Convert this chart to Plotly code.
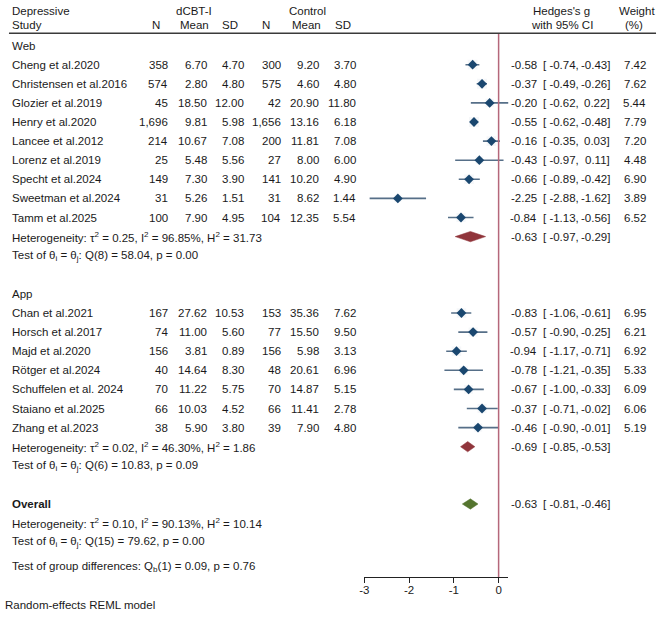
import plotly.graph_objects as go

# ---------------- data ----------------
web_studies = ["Cheng et al.2020", "Christensen et al.2016", "Glozier et al.2019", "Henry et al.2020",
               "Lancee et al.2012", "Lorenz et al.2019", "Specht et al.2024", "Sweetman et al.2024",
               "Tamm et al.2025"]
web_n1 = [358, 574, 45, 1696, 214, 25, 149, 31, 100]
web_m1 = [6.70, 2.80, 18.50, 9.81, 10.67, 5.48, 7.30, 5.26, 7.90]
web_sd1 = [4.70, 4.80, 12.00, 5.98, 7.08, 5.56, 3.90, 1.51, 4.95]
web_n2 = [300, 575, 42, 1656, 200, 27, 141, 31, 104]
web_m2 = [9.20, 4.60, 20.90, 13.16, 11.81, 8.00, 10.20, 8.62, 12.35]
web_sd2 = [3.70, 4.80, 11.80, 6.18, 7.08, 6.00, 4.90, 1.44, 5.54]
web_g = [-0.58, -0.37, -0.20, -0.55, -0.16, -0.43, -0.66, -2.25, -0.84]
web_lo = [-0.74, -0.49, -0.62, -0.62, -0.35, -0.97, -0.89, -2.88, -1.13]
web_hi = [-0.43, -0.26, 0.22, -0.48, 0.03, 0.11, -0.42, -1.62, -0.56]
web_w = [7.42, 7.62, 5.44, 7.79, 7.20, 4.48, 6.90, 3.89, 6.52]

app_studies = ["Chan et al.2021", "Horsch et al.2017", "Majd et al.2020", "Rötger et al.2024",
               "Schuffelen et al. 2024", "Staiano et al.2025", "Zhang et al.2023"]
app_n1 = [167, 74, 156, 40, 70, 66, 38]
app_m1 = [27.62, 11.00, 3.81, 14.64, 11.22, 10.03, 5.90]
app_sd1 = [10.53, 5.60, 0.89, 8.30, 5.75, 4.52, 3.80]
app_n2 = [153, 77, 156, 48, 70, 66, 39]
app_m2 = [35.36, 15.50, 5.98, 20.61, 14.87, 11.41, 7.90]
app_sd2 = [7.62, 9.50, 3.13, 6.96, 5.15, 2.78, 4.80]
app_g = [-0.83, -0.57, -0.94, -0.78, -0.67, -0.37, -0.46]
app_lo = [-1.06, -0.90, -1.17, -1.21, -1.00, -0.71, -0.90]
app_hi = [-0.61, -0.25, -0.71, -0.35, -0.33, -0.02, -0.01]
app_w = [6.95, 6.21, 6.92, 5.33, 6.09, 6.06, 5.19]

pooled_labels = ["Web", "App", "Overall"]
pooled_g = [-0.63, -0.69, -0.63]
pooled_lo = [-0.97, -0.85, -0.81]
pooled_hi = [-0.29, -0.53, -0.46]

web_het = "Heterogeneity: τ<sup>2</sup> = 0.25, I<sup>2</sup> = 96.85%, H<sup>2</sup> = 31.73"
web_test = "Test of θ<sub>i</sub> = θ<sub>j</sub>: Q(8) = 58.04, p = 0.00"
app_het = "Heterogeneity: τ<sup>2</sup> = 0.02, I<sup>2</sup> = 46.30%, H<sup>2</sup> = 1.86"
app_test = "Test of θ<sub>i</sub> = θ<sub>j</sub>: Q(6) = 10.83, p = 0.09"
all_het = "Heterogeneity: τ<sup>2</sup> = 0.10, I<sup>2</sup> = 90.13%, H<sup>2</sup> = 10.14"
all_test = "Test of θ<sub>i</sub> = θ<sub>j</sub>: Q(15) = 79.62, p = 0.00"
grp_test = "Test of group differences: Q<sub>b</sub>(1) = 0.09, p = 0.76"
footnote = "Random-effects REML model"

x_ticks = [-3, -2, -1, 0]

# ---------------- layout helpers ----------------
W, H = 661, 618
FONT = "Liberation Sans, Arial, sans-serif"
TXT = "#1a1a1a"
NAVY = "#1a476f"
CI_COL = "#566f88"
MAROON = "#90353b"
GREEN = "#55752f"
REF = "#b5677a"
FS = 11.5
LSHIFT = 5  # compensation for annotation left padding

row_px0, row_step = 45.6, 19.1  # pixel y of row 0, pixel per row
ktop = -row_px0 / row_step
kbot = ktop + H / row_step


def kpx(ypx):
    return (ypx - row_px0) / row_step


def px(x):
    return x / W


annotations = []


def txt(x, k, s, anchor="left", bold=False, size=FS):
    if anchor == "left":
        x = x - LSHIFT
    annotations.append(dict(
        x=px(x), y=k, xref="paper", yref="y", text=("<b>%s</b>" % s) if bold else s,
        showarrow=False, xanchor=anchor, yanchor="middle",
        font=dict(family=FONT, size=size, color=TXT), borderpad=0))


fig = go.Figure()

# column right edges
C_N1, C_M1, C_SD1, C_N2, C_M2, C_SD2 = 165.7, 204.2, 241.7, 279.3, 317.3, 355.0
C_ES, C_LO, C_HI, C_W = 537.5, 541.0, 610.5, 646.5

# headers
txt(11, kpx(10.5), "Depressive")
txt(11, kpx(25), "Study")
txt(190.8, kpx(10.5), "dCBT-I", "center")
txt(305, kpx(10.5), "Control", "center")
for cx, s in [(152.5, "N"), (190.5, "Mean"), (226.5, "SD"), (262.5, "N"), (304.3, "Mean"), (340.5, "SD")]:
    txt(cx, kpx(25), s, "center")
txt(561, kpx(10.5), "Hedges's g", "center")
txt(561, kpx(25), "with 95% CI", "center")
txt(636.5, kpx(10.5), "Weight", "center")
txt(633.5, kpx(25), "(%)", "center")

fig.add_shape(type="line", xref="paper", yref="y", x0=px(4), x1=px(656),
              y0=kpx(33.3), y1=kpx(33.3), line=dict(color="#3a3a3a", width=1.5))


def es_text(k, g, lo, hi):
    txt(C_ES, k, "%.2f" % g, "right")
    txt(C_LO + LSHIFT, k, "[ %.2f," % lo, "left")
    txt(C_HI, k, "%.2f]" % hi, "right")


def add_group(studies, n1, m1, sd1, n2, m2, sd2, g, lo, hi, w, k0):
    ks = [k0 + i for i in range(len(studies))]
    for i, k in enumerate(ks):
        txt(11, k, studies[i])
        txt(C_N1, k, "{:,}".format(n1[i]), "right")
        txt(C_M1, k, "%.2f" % m1[i], "right")
        txt(C_SD1, k, "%.2f" % sd1[i], "right")
        txt(C_N2, k, "{:,}".format(n2[i]), "right")
        txt(C_M2, k, "%.2f" % m2[i], "right")
        txt(C_SD2, k, "%.2f" % sd2[i], "right")
        es_text(k, g[i], lo[i], hi[i])
        txt(C_W, k, "%.2f" % w[i], "right")
        fig.add_trace(go.Scatter(x=[lo[i], hi[i]], y=[k, k], mode="lines", xaxis="x2", yaxis="y",
                                 line=dict(color=CI_COL, width=1.6), showlegend=False, hoverinfo="skip"))
    # faint weight boxes
    fig.add_trace(go.Scatter(x=g, y=ks, mode="markers", xaxis="x2", yaxis="y",
                             marker=dict(symbol="square", size=[3.6 * wi ** 0.5 for wi in w],
                                         color="rgba(120,140,165,0.10)", line=dict(width=0)),
                             showlegend=False, hoverinfo="skip"))
    fig.add_trace(go.Scatter(x=g, y=ks, mode="markers", xaxis="x2", yaxis="y",
                             marker=dict(symbol="diamond", size=7.5, color=NAVY, line=dict(width=0)),
                             showlegend=False, hoverinfo="skip"))


def add_diamond(i, k, color):
    h = 0.27
    fig.add_trace(go.Scatter(x=[pooled_lo[i], pooled_g[i], pooled_hi[i], pooled_g[i], pooled_lo[i]],
                             y=[k, k - h, k, k + h, k], mode="lines", fill="toself",
                             fillcolor=color, line=dict(color=color, width=0.5),
                             xaxis="x2", yaxis="y", showlegend=False, hoverinfo="skip"))
    es_text(k, pooled_g[i], pooled_lo[i], pooled_hi[i])


# Web group
txt(11, 0, pooled_labels[0])
add_group(web_studies, web_n1, web_m1, web_sd1, web_n2, web_m2, web_sd2,
          web_g, web_lo, web_hi, web_w, 1)
add_diamond(0, 10, MAROON)
txt(11, 10, web_het)
txt(11, 11, web_test)

# App group
txt(11, 13, pooled_labels[1])
add_group(app_studies, app_n1, app_m1, app_sd1, app_n2, app_m2, app_sd2,
          app_g, app_lo, app_hi, app_w, 14)
add_diamond(1, 21, MAROON)
txt(11, 21, app_het)
txt(11, 22, app_test)

# Overall
txt(11, 24, pooled_labels[2], bold=True)
add_diamond(2, 24, GREEN)
txt(11, 25, all_het)
txt(11, 26, all_test)
txt(11, kpx(566.7), grp_test)
txt(4, kpx(605.3), footnote)

# reference line at 0
fig.add_trace(go.Scatter(x=[0, 0], y=[kpx(33.3), kpx(577.3)], mode="lines", xaxis="x2", yaxis="y",
                         line=dict(color=REF, width=1.5), showlegend=False, hoverinfo="skip"))

fig.update_layout(
    width=W, height=H, margin=dict(l=0, r=0, t=0, b=0),
    paper_bgcolor="white", plot_bgcolor="rgba(0,0,0,0)",
    annotations=annotations,
    xaxis=dict(visible=False),
    xaxis2=dict(domain=[px(362), px(507.3)], range=[-3, 0.22], anchor="free",
                position=1 - 577.3 / H, tickvals=x_ticks, ticktext=[str(t) for t in x_ticks],
                ticks="outside", ticklen=5, tickcolor="#222", tickwidth=1,
                showline=True, linecolor="#222", linewidth=1, showgrid=False, zeroline=False,
                tickfont=dict(family=FONT, size=FS, color=TXT)),
    yaxis=dict(domain=[0, 1], range=[kbot, ktop], visible=False, anchor="x2"),
)
try:
    fig.update_layout(xaxis2_ticklabelstandoff=-3)
except Exception:
    pass

fig.write_html("out.html")
